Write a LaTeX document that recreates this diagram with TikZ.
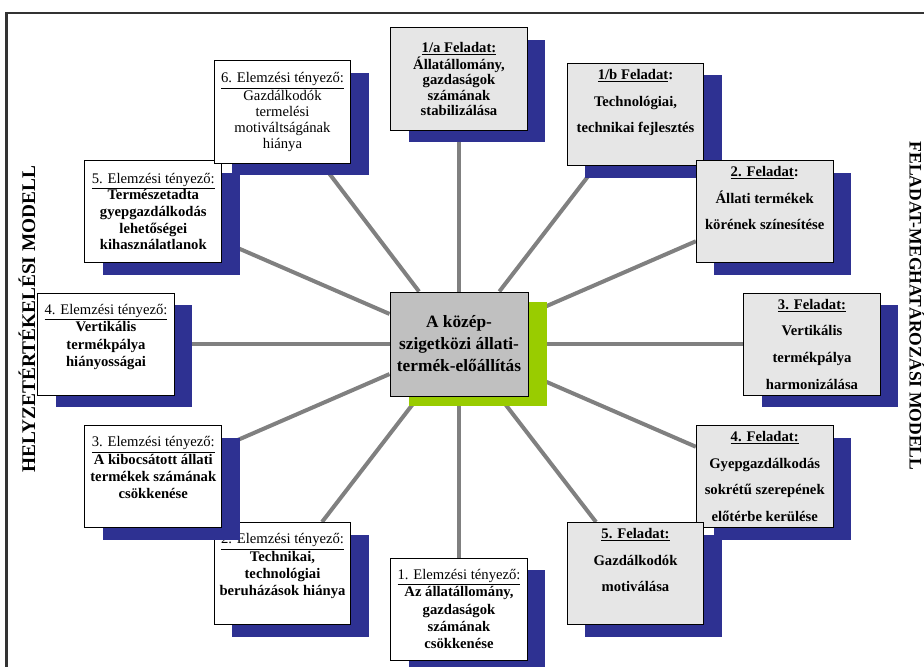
\documentclass[tikz,border=0pt]{standalone}
\usepackage{fontspec}
\setmainfont{Liberation Serif}
\usetikzlibrary{shadows,backgrounds}
\definecolor{shadowblue}{RGB}{46,49,146}
\definecolor{limegreen}{RGB}{153,204,0}
\definecolor{boxgray}{RGB}{230,230,230}
\definecolor{midgray}{RGB}{192,192,192}
\definecolor{spokegray}{RGB}{128,128,128}
\definecolor{framegray}{RGB}{51,51,51}
\newcommand{\hd}[1]{\underline{#1}}
\newcommand{\fnt}[1]{\fontsize{11}{#1}\selectfont\bfseries}

\begin{document}
\begin{tikzpicture}[x=0.75pt,y=-0.75pt,
  box/.style={draw=black,line width=0.75pt,minimum width=102.5pt,minimum height=76.5pt,
    inner sep=1pt,align=center,
    general shadow={fill=shadowblue,shadow xshift=13.5pt,shadow yshift=-9pt}},
  task/.style={box,fill=boxgray},
  factor/.style={box,fill=white},
  spoke/.style={draw=spokegray,line width=3pt},
  sidetitle/.style={font=\fontsize{14.5}{16}\selectfont\bfseries}]
  \useasboundingbox (0,0) rectangle (924,667);

  % frame
  \draw[framegray,line width=2.2pt] (6.5,667) -- (6.5,13) -- (924,13);
  \node[sidetitle,rotate=90] (lefttitle) at (27,319) {HELYZETÉRTÉKELÉSI MODELL};
  \node[sidetitle,font=\fontsize{13.2}{15}\selectfont\bfseries,rotate=-90] (righttitle) at (917,306)
    {FELADAT-MEGHATÁROZÁSI MODELL};

  % center
  \node[draw=black,line width=0.75pt,fill=midgray,minimum width=103.5pt,minimum height=78pt,
    align=center,font=\fontsize{13}{16.5}\selectfont\bfseries,inner sep=1pt,
    general shadow={fill=limegreen,shadow xshift=14pt,shadow yshift=-7.5pt}]
    (mid) at (459,344) {A közép-\\szigetközi állati-\\termék-előállítás};

  % feladatok (jobb oldal)
  \node[task,font=\fnt{11.5}] (fa1) at (459,79)
    {\hd{1/a Feladat:}\\Állatállomány,\\gazdaságok\\számának\\stabilizálása};
  \node[task,font=\fnt{20}] (fb1) at (635.5,114.5)
    {\hd{1/b Feladat}:\\Technológiai,\\technikai fejlesztés\\~};
  \node[task,font=\fnt{20}] (f2) at (764.7,211.5)
    {\hd{2. Feladat}:\\Állati termékek\\körének színesítése\\~};
  \node[task,font=\fnt{20}] (f3) at (812,344)
    {\hd{3. Feladat:}\\Vertikális\\termékpálya\\harmonizálása};
  \node[task,font=\fnt{20}] (f4) at (764.7,476.5)
    {\hd{4. Feladat:}\\Gyepgazdálkodás\\sokrétű szerepének\\előtérbe kerülése};
  \node[task,font=\fnt{20}] (f5) at (635.5,573.5)
    {\hd{5. Feladat:}\\Gazdálkodók\\motiválása\\~};

  % elemzesi tenyezok (bal oldal)
  \node[factor,font=\fnt{13}] (e1) at (459,609)
    {\hd{\mdseries 1. Elemzési tényező:}\\Az állatállomány,\\gazdaságok\\számának\\csökkenése};
  \node[factor,font=\fnt{13}] (e2) at (282.5,573.5)
    {\hd{\mdseries 2. Elemzési tényező:}\\Technikai,\\technológiai\\beruházások hiánya\\~};
  \node[factor,font=\fnt{13}] (e3) at (153.3,476.5)
    {\hd{\mdseries 3. Elemzési tényező:}\\A kibocsátott állati\\termékek számának\\csökkenése\\~};
  \node[factor,font=\fnt{13}] (e4) at (106,344)
    {\hd{\mdseries 4. Elemzési tényező:}\\Vertikális\\termékpálya\\hiányosságai\\~};
  \node[factor,font=\fnt{12.5}] (e5) at (153.3,211.5)
    {\hd{\mdseries 5. Elemzési tényező:}\\Természetadta\\gyepgazdálkodás\\lehetőségei\\kihasználatlanok};
  \node[factor,font=\fontsize{11}{12}\selectfont] (e6) at (282.5,112)
    {\hd{6. Elemzési tényező:}\\Gazdálkodók\\termelési\\motiváltságának\\hiánya};

  \begin{scope}[on background layer]
    \foreach \n in {fa1,fb1,f2,f3,f4,f5,e1,e2,e3,e4,e5,e6}
      \draw[spoke] (mid) -- (\n);
  \end{scope}
\end{tikzpicture}
\end{document}
